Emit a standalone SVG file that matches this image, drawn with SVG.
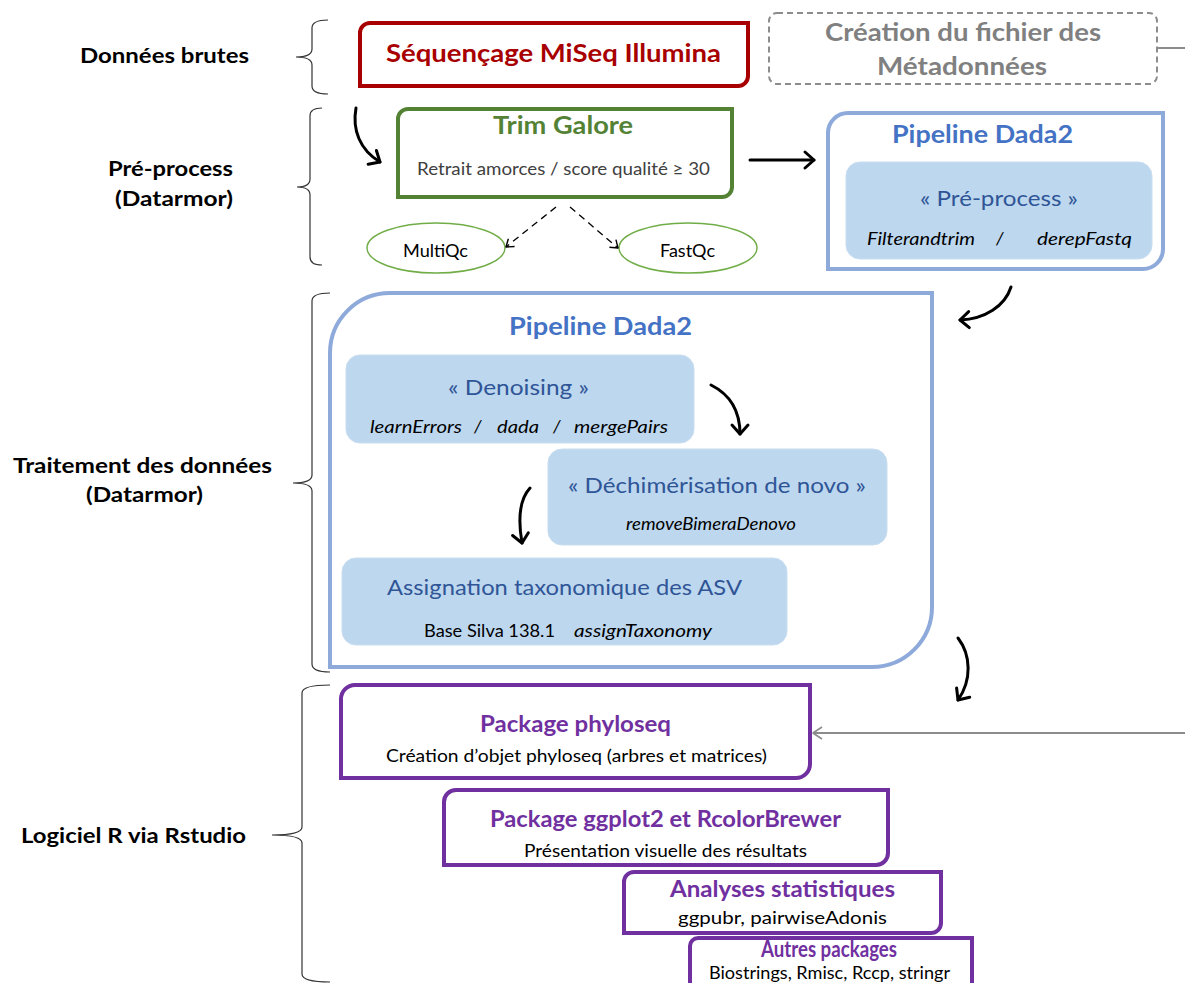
<svg xmlns="http://www.w3.org/2000/svg" width="1185" height="983" viewBox="0 0 1185 983">
<style>
text{font-family:Lato,"Open Sans","Liberation Sans",sans-serif}
.lbl{font-weight:700;font-size:21px;fill:#000}
.ttl{font-weight:700;font-size:25px}
.sub{font-size:18px;fill:#000}
.it{font-style:italic;font-size:18px;fill:#000}
.step{font-size:22px;fill:#2F5597}
.pt{font-weight:700;font-size:22px;fill:#7030A0}
.brace{fill:none;stroke:#333;stroke-width:1.2}
.inner{fill:#BDD7EE;stroke:#C9DDF0;stroke-width:1}
.pbox{fill:#fff;stroke:#7030A0;stroke-width:4}
.dbox{fill:#fff;stroke:#8EAADB;stroke-width:4}
.arr{fill:none;stroke:#000;stroke-width:3;stroke-linecap:round}
.darr{fill:none;stroke:#000;stroke-width:1.3;stroke-dasharray:7 5}
</style>
<defs>
<marker id="ah" viewBox="-2 -2 20 20" refX="15" refY="8" markerWidth="20" markerHeight="20" markerUnits="userSpaceOnUse" orient="auto" overflow="visible">
<path d="M6,0 L15,8 L6,16" fill="none" stroke="#000" stroke-width="3" stroke-linecap="round" stroke-linejoin="round"/>
</marker>
<marker id="ahs" viewBox="-2 -2 14 14" refX="10" refY="5" markerWidth="14" markerHeight="14" markerUnits="userSpaceOnUse" orient="auto" overflow="visible">
<path d="M3,0 L10,5 L3,10" fill="none" stroke="#000" stroke-width="1.4" stroke-linejoin="round"/>
</marker>
<marker id="ahg" viewBox="-2 -2 16 16" refX="12" refY="6" markerWidth="16" markerHeight="16" markerUnits="userSpaceOnUse" orient="auto" overflow="visible">
<path d="M3,0 L12,6 L3,12" fill="none" stroke="#8C8C8C" stroke-width="1.6" stroke-linejoin="round"/>
</marker>
</defs>
<rect width="1185" height="983" fill="#fff"/>

<g id="labels">
<text class="lbl" x="80" y="63" textLength="169" lengthAdjust="spacingAndGlyphs">Données brutes</text>
<text class="lbl" x="108" y="176" textLength="125" lengthAdjust="spacingAndGlyphs">Pré-process</text>
<text class="lbl" x="115" y="206" textLength="118" lengthAdjust="spacingAndGlyphs">(Datarmor)</text>
<text class="lbl" x="13" y="473" textLength="259" lengthAdjust="spacingAndGlyphs">Traitement des données</text>
<text class="lbl" x="86" y="502" textLength="117" lengthAdjust="spacingAndGlyphs">(Datarmor)</text>
<text class="lbl" x="21" y="843" textLength="225" lengthAdjust="spacingAndGlyphs">Logiciel R via Rstudio</text>
</g>

<g id="braces">
<path class="brace" d="M328,20 Q312,20 312,28 V49 Q312,57 296,57 Q312,57 312,65 V86 Q312,94 328,94"/>
<path class="brace" d="M322,108 Q310,108 310,116 V179 Q310,187 297,187 Q310,187 310,195 V257 Q310,265 322,265"/>
<path class="brace" d="M330,293 Q312,293 312,301 V475 Q312,483 293,483 Q312,483 312,491 V664 Q312,672 330,672"/>
<path class="brace" d="M330,685 Q302,685 302,693 V827 Q302,835 272,835 Q302,835 302,843 V974 Q302,982 330,982"/>
</g>

<g id="sequencage">
<path d="M370,23 H748 V76 A10,10 0 0 1 738,86 H360 V33 A10,10 0 0 1 370,23 Z" fill="#fff" stroke="#A80000" stroke-width="4"/>
<text class="ttl" x="386" y="62" fill="#A80000" textLength="335" lengthAdjust="spacingAndGlyphs">Séquençage MiSeq Illumina</text>
</g>

<g id="metadonnees">
<rect x="769" y="13" width="388" height="71" rx="8" fill="#fff" stroke="#8C8C8C" stroke-width="2" stroke-dasharray="6 4"/>
<text class="ttl" x="825" y="41" fill="#808080" textLength="276" lengthAdjust="spacingAndGlyphs">Création du fichier des</text>
<text class="ttl" x="877" y="75" fill="#808080" textLength="170" lengthAdjust="spacingAndGlyphs">Métadonnées</text>
</g>

<g id="trimgalore">
<path d="M408,109 H732 V187 A10,10 0 0 1 722,197 H398 V119 A10,10 0 0 1 408,109 Z" fill="#fff" stroke="#548235" stroke-width="4"/>
<text class="ttl" x="493" y="134" fill="#548235" textLength="140" lengthAdjust="spacingAndGlyphs">Trim Galore</text>
<text x="417" y="175" font-size="18" fill="#404040" textLength="293" lengthAdjust="spacingAndGlyphs">Retrait amorces / score qualité ≥ 30</text>
</g>

<g id="multiqc">
<ellipse cx="436" cy="248" rx="69" ry="25" fill="#fff" stroke="#70AD47" stroke-width="1.5"/>
<text class="sub" x="403" y="257" textLength="65" lengthAdjust="spacingAndGlyphs">MultiQc</text>
</g>
<g id="fastqc">
<ellipse cx="688" cy="248" rx="69" ry="25" fill="#fff" stroke="#70AD47" stroke-width="1.5"/>
<text class="sub" x="660" y="257" textLength="55" lengthAdjust="spacingAndGlyphs">FastQc</text>
</g>

<g id="dada2-preprocess">
<path class="dbox" d="M848,113 H1163 V249 A20,20 0 0 1 1143,269 H828 V133 A20,20 0 0 1 848,113 Z"/>
<text class="ttl" x="892" y="143" fill="#4472C4" textLength="181" lengthAdjust="spacingAndGlyphs">Pipeline Dada2</text>
<rect class="inner" x="846" y="162" width="306" height="97" rx="14"/>
<text class="step" x="920" y="206" textLength="158" lengthAdjust="spacingAndGlyphs">« Pré-process »</text>
<text class="it" x="867" y="245" textLength="108" lengthAdjust="spacingAndGlyphs">Filterandtrim</text>
<text class="it" x="996" y="245">/</text>
<text class="it" x="1037" y="245" textLength="95" lengthAdjust="spacingAndGlyphs">derepFastq</text>
</g>

<g id="dada2-traitement">
<path class="dbox" d="M390,293 H932 V607 A60,60 0 0 1 872,667 H330 V353 A60,60 0 0 1 390,293 Z"/>
<text class="ttl" x="509" y="335" fill="#4472C4" textLength="183" lengthAdjust="spacingAndGlyphs">Pipeline Dada2</text>
</g>

<g id="denoising">
<rect class="inner" x="346" y="355" width="348" height="88" rx="14"/>
<text class="step" x="448" y="395" textLength="141" lengthAdjust="spacingAndGlyphs">« Denoising »</text>
<text class="it" x="370" y="433" textLength="92" lengthAdjust="spacingAndGlyphs">learnErrors</text>
<text class="it" x="474" y="433">/</text>
<text class="it" x="497" y="433" textLength="42" lengthAdjust="spacingAndGlyphs">dada</text>
<text class="it" x="553" y="433">/</text>
<text class="it" x="574" y="433" textLength="94" lengthAdjust="spacingAndGlyphs">mergePairs</text>
</g>

<g id="dechimerisation">
<rect class="inner" x="548" y="449" width="339" height="96" rx="14"/>
<text class="step" x="568" y="493" textLength="298" lengthAdjust="spacingAndGlyphs">« Déchimérisation de novo »</text>
<text class="it" x="626" y="530" textLength="170" lengthAdjust="spacingAndGlyphs">removeBimeraDenovo</text>
</g>

<g id="assignation">
<rect class="inner" x="342" y="558" width="445" height="87" rx="14"/>
<text class="step" x="387" y="595" textLength="355" lengthAdjust="spacingAndGlyphs">Assignation taxonomique des ASV</text>
<text x="424" y="637" font-size="17" fill="#000" textLength="131" lengthAdjust="spacingAndGlyphs">Base Silva 138.1</text>
<text class="it" x="574" y="637" font-size="17" textLength="138" lengthAdjust="spacingAndGlyphs">assignTaxonomy</text>
</g>

<g id="phyloseq">
<path class="pbox" d="M355,685 H810 V764 A14,14 0 0 1 796,778 H341 V699 A14,14 0 0 1 355,685 Z"/>
<text class="pt" x="480" y="732" textLength="191" lengthAdjust="spacingAndGlyphs">Package phyloseq</text>
<text class="sub" x="386" y="762" textLength="381" lengthAdjust="spacingAndGlyphs">Création d’objet phyloseq (arbres et matrices)</text>
</g>

<g id="ggplot2">
<path class="pbox" d="M456,790 H888 V853 A12,12 0 0 1 876,865 H444 V802 A12,12 0 0 1 456,790 Z"/>
<text class="pt" x="490" y="827" textLength="351" lengthAdjust="spacingAndGlyphs">Package ggplot2 et RcolorBrewer</text>
<text class="sub" x="524" y="857" font-size="17" textLength="283" lengthAdjust="spacingAndGlyphs">Présentation visuelle des résultats</text>
</g>

<g id="analyses">
<path class="pbox" d="M634,872 H941 V923 A10,10 0 0 1 931,933 H624 V882 A10,10 0 0 1 634,872 Z"/>
<text class="pt" x="670" y="897" font-size="23" textLength="225" lengthAdjust="spacingAndGlyphs">Analyses statistiques</text>
<text class="sub" x="678" y="924" font-size="20" textLength="209" lengthAdjust="spacingAndGlyphs">ggpubr, pairwiseAdonis</text>
</g>

<g id="autres">
<path class="pbox" d="M698,938 H972 V992 A8,8 0 0 1 964,1000 H690 V946 A8,8 0 0 1 698,938 Z"/>
<text class="pt" x="761" y="957" font-size="16" textLength="136" lengthAdjust="spacingAndGlyphs">Autres packages</text>
<text class="sub" x="709" y="979" textLength="241" lengthAdjust="spacingAndGlyphs">Biostrings, Rmisc, Rccp, stringr</text>
</g>

<g id="connectors">
<path class="arr" d="M356,108 C352,130 360,150 380,162" marker-end="url(#ah)"/>
<path class="arr" d="M750,160 L814,160" stroke-width="3.5" marker-end="url(#ah)"/>
<path class="darr" d="M556,207 L506,247" marker-end="url(#ahs)"/>
<path class="darr" d="M570,207 L618,248" marker-end="url(#ahs)"/>
<path class="arr" d="M1011,287 C1005,306 985,319 960,320" marker-end="url(#ah)"/>
<path class="arr" d="M711,385 C729,394 740,410 740,434" marker-end="url(#ah)"/>
<path class="arr" d="M530,488 C519,500 518,520 522,543" marker-end="url(#ah)"/>
<path class="arr" d="M958,638 C971,655 972,680 958,700" marker-end="url(#ah)"/>
<path d="M1157,48 H1200 V733 H813" fill="none" stroke="#8C8C8C" stroke-width="2" marker-end="url(#ahg)"/>
</g>
</svg>
